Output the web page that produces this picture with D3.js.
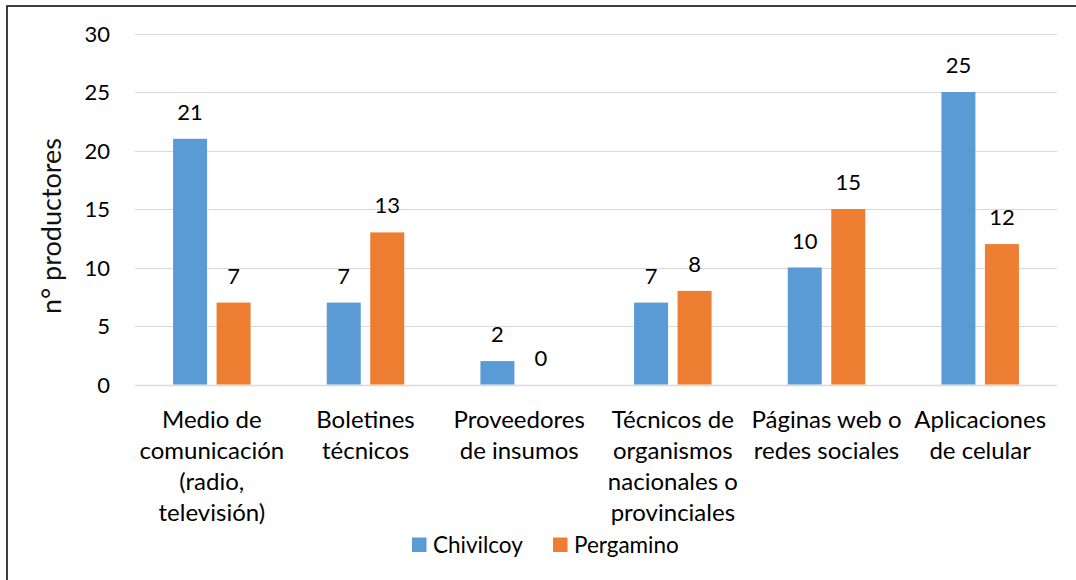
<!DOCTYPE html>
<html><head><meta charset="utf-8">
<script src="https://cdn.jsdelivr.net/npm/d3@7"></script>
<style>body{margin:0;background:#fff;} svg{display:block;font-family:Lato,"Noto Sans",sans-serif;}</style>
</head><body>
<svg id="c" width="1076" height="580"></svg>
<script>
const categories = [
  ["Medio de","comunicación","(radio,","televisión)"],
  ["Boletines","técnicos"],
  ["Proveedores","de insumos"],
  ["Técnicos de","organismos","nacionales o","provinciales"],
  ["Páginas web o","redes sociales"],
  ["Aplicaciones","de celular"]
];
const seriesNames = ["Chivilcoy","Pergamino"];
const chivilcoy = [21,7,2,7,10,25];
const pergamino = [7,13,0,8,15,12];
const yTicks = [0,5,10,15,20,25,30];
const colors = ["#5B9BD5","#ED7D31"];
const yTitle = "n° productores";

const svg = d3.select("#c");
const L = 135, R = 1057, T = 33.5, B = 384.5;
const catIdx = categories.map((c,i)=>i);
const x0 = d3.scaleBand().domain(catIdx).range([L,R]).paddingInner(0).paddingOuter(0);
const half = 38.75;
const x1 = d3.scaleBand().domain(seriesNames).range([x0.bandwidth()/2-half, x0.bandwidth()/2+half]).paddingInner(9.5/43.5).paddingOuter(0);
const y = d3.scaleLinear().domain([0,30]).range([B,T]);

// border
svg.append("rect").attr("x",7).attr("y",6).attr("width",2000).attr("height",2000)
  .attr("fill","none").attr("stroke","#000").attr("stroke-width",1.5);

// gridlines
svg.append("g").selectAll("line").data(yTicks).join("line")
  .attr("x1",L).attr("x2",R).attr("y1",d=>Math.round(y(d))+0.5).attr("y2",d=>Math.round(y(d))+0.5)
  .attr("stroke","#D9D9D9").attr("stroke-width",d=>d===0?1.5:1);

// y axis labels
const yAxis = d3.axisLeft(y).tickValues(yTicks).tickSize(0).tickPadding(0);
const ya = svg.append("g").attr("transform",`translate(110,0)`).call(yAxis);
ya.select(".domain").remove();
ya.selectAll("text").attr("font-size",22).attr("fill","#000").attr("font-family","Lato").attr("dy","0.35em");

// y title
svg.append("text").attr("transform",`translate(61,226) rotate(-90)`).attr("text-anchor","middle")
  .attr("font-size",27).attr("fill","#111").text(yTitle);

const data = catIdx.map(i=>({i, vals:[chivilcoy[i],pergamino[i]]}));
const g = svg.append("g").selectAll("g").data(data).join("g").attr("transform",d=>`translate(${x0(d.i)},0)`);
g.selectAll("rect").data(d=>d.vals.map((v,k)=>({v,k}))).join("rect")
  .attr("x",d=>x1(seriesNames[d.k])).attr("width",x1.bandwidth())
  .attr("y",d=>y(d.v)).attr("height",d=>B-y(d.v)).attr("fill",d=>colors[d.k]);
g.selectAll("text").data(d=>d.vals.map((v,k)=>({v,k}))).join("text")
  .attr("x",d=>x1(seriesNames[d.k])+x1.bandwidth()/2).attr("y",d=>y(d.v)-19)
  .attr("text-anchor","middle").attr("font-size",22).attr("fill","#000").text(d=>d.v);

// x labels
const xl = svg.append("g").selectAll("text").data(categories).join("text")
  .attr("text-anchor","middle").attr("font-size",24).attr("fill","#000")
  .attr("transform",(d,i)=>`translate(${x0(i)+x0.bandwidth()/2},${B+43})`);
xl.selectAll("tspan").data(d=>d).join("tspan").attr("x",0).attr("y",(d,j)=>j*31.3).text(d=>d);

// legend
const lg = svg.append("g");
const legX = [412, 553];
seriesNames.forEach((s,k)=>{
  lg.append("rect").attr("x",legX[k]).attr("y",537.5).attr("width",14.5).attr("height",14.5).attr("fill",colors[k]);
  lg.append("text").attr("x",legX[k]+21).attr("y",552.5).attr("font-size",22.5).attr("fill","#000").text(s);
});
</script>
</body></html>
